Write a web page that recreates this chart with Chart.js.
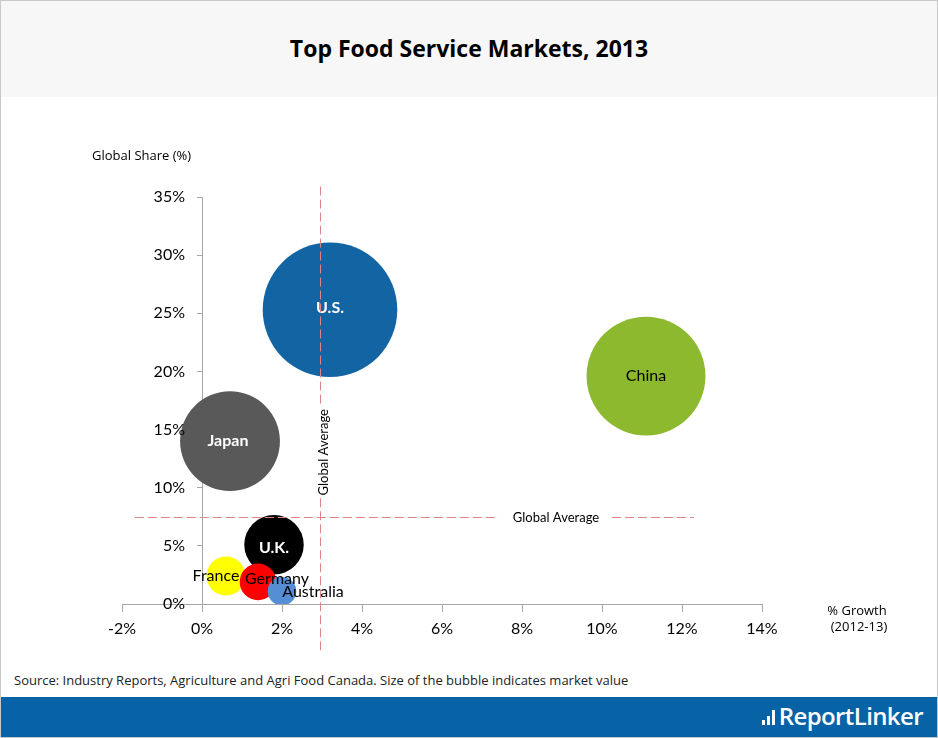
<!DOCTYPE html>
<html>
<head>
<meta charset="utf-8">
<script src="https://cdn.jsdelivr.net/npm/chart.js@4.4.1/dist/chart.umd.min.js"></script>
<style>
  html, body { margin: 0; padding: 0; background: #fff; }
  #page { position: relative; width: 938px; height: 738px; overflow: hidden; box-sizing: border-box; border: 1px solid #c8c8c8; }
  #title { position: absolute; left: 0; top: 0; width: 936px; height: 96px; background: #f7f7f7;
    font: bold 23px "Open Sans", sans-serif; color: #000; text-align: center; line-height: 94px; }
  #plot { position: absolute; left: -1px; top: 96px; width: 938px; height: 563px; }
  #source { position: absolute; left: 13px; top: 670px; font: 13px "Open Sans", sans-serif; color: #222; }
  #footer { position: absolute; left: 0; top: 696px; width: 936px; height: 40px; background: #0763a6; }
  #logo { position: absolute; right: 14px; top: 2px; color: #fff; font: 600 24px "Open Sans", sans-serif; letter-spacing: -0.6px; }
  #logo .bars { display: inline-block; vertical-align: 0px; margin-right: 2px; }
  #logo .bars i { display: inline-block; width: 3px; background: #fff; margin-right: 2px; }
</style>
</head>
<body>
<div id="page">
  <div id="title">Top Food Service Markets, 2013</div>
  <div id="plot"><canvas id="bubble_chart" width="938" height="563"></canvas></div>
  <div id="source">Source: Industry Reports, Agriculture and Agri Food Canada. Size of the bubble indicates market value</div>
  <div id="footer">
    <div id="logo"><span class="bars"><i style="height:5px"></i><i style="height:9px"></i><i style="height:15px"></i></span>ReportLinker</div>
  </div>
</div>
<script>
const countries = ['U.S.', 'China', 'Japan', 'U.K.', 'France', 'Germany', 'Australia'];
const growth = [3.2, 11.1, 0.7, 1.8, 0.6, 1.4, 2.0];        // % growth 2012-13
const share = [25.3, 19.6, 14.0, 5.1, 2.4, 1.9, 1.1];       // global share %
const marketValue = [100, 78, 55, 19.5, 8.4, 7.4, 4.5];     // relative market value (US = 100)
const avgGrowth = 2.95;
const avgShare = 7.5;

const colors = ['#1264a3', '#8cb92d', '#595959', '#000000', '#ffff00', '#ff0000', '#558ed5'];
const labelColors = ['#fff', '#000', '#fff', '#fff', '#000', '#000', '#000'];
const labelBold = [true, false, true, true, false, false, false];
const labelShift = [[0, -2], [0, 0], [-2, 0], [0, 3], [-10, 0], [19, -3], [31, 1]];

// Excel sizes bubbles by area
const maxRadius = 67.3;
const radius = (v) => maxRadius * Math.sqrt(v / Math.max(...marketValue));

const axisColor = '#a6a6a6';
const dashColor = '#e08585';
const tickFont = '16px Lato';

const overlay = {
  id: 'overlay',
  afterDatasetsDraw(chart) {
    const { ctx, scales: { x, y } } = chart;
    const meta = chart.getDatasetMeta(0);

    // y tick labels: chart.js puts them right on the axis when it sits at x = 0
    ctx.save();
    ctx.font = tickFont;
    ctx.fillStyle = '#000';
    ctx.textAlign = 'right';
    ctx.textBaseline = 'middle';
    const axisX = x.getPixelForValue(0);
    y.ticks.forEach((t) => ctx.fillText(t.label, axisX - 17, y.getPixelForValue(t.value)));
    ctx.restore();

    // bubble labels
    ctx.save();
    ctx.textAlign = 'center';
    ctx.textBaseline = 'middle';
    meta.data.forEach((pt, i) => {
      ctx.font = (labelBold[i] ? 'bold ' : '') + '16px Lato';
      ctx.fillStyle = labelColors[i];
      ctx.fillText(countries[i], pt.x + labelShift[i][0], pt.y + labelShift[i][1]);
    });
    ctx.restore();

    // global average lines
    ctx.save();
    ctx.strokeStyle = dashColor;
    ctx.lineWidth = 1;
    ctx.setLineDash([9, 4]);
    const gx = Math.round(x.getPixelForValue(avgGrowth)) + 0.5;
    const gy = Math.round(y.getPixelForValue(avgShare)) + 0.5;
    const seg = (x1, y1, x2, y2) => { ctx.beginPath(); ctx.moveTo(x1, y1); ctx.lineTo(x2, y2); ctx.stroke(); };
    // horizontal: from -1.68% to 12.3%, gap around label
    const hLabelX = x.getPixelForValue(8.85);
    seg(x.getPixelForValue(-1.68), gy, hLabelX - 57, gy);
    seg(hLabelX + 56, gy, x.getPixelForValue(12.3), gy);
    // vertical: from 35.9% down below the axis, gap around label
    const vLabelY = y.getPixelForValue(13.05);
    seg(gx, y.getPixelForValue(35.9), gx, vLabelY - 46);
    seg(gx, vLabelY + 46, gx, y.getPixelForValue(-4.0));
    ctx.setLineDash([]);

    ctx.fillStyle = '#000';
    ctx.font = '13px Lato';
    ctx.textAlign = 'center';
    ctx.textBaseline = 'middle';
    ctx.fillText('Global Average', hLabelX, gy);
    ctx.translate(gx + 3, vLabelY);
    ctx.rotate(-Math.PI / 2);
    ctx.fillText('Global Average', 0, 0);
    ctx.restore();

    // axis titles
    ctx.save();
    ctx.fillStyle = '#000';
    ctx.font = '13px "Open Sans"';
    ctx.textBaseline = 'middle';
    ctx.textAlign = 'left';
    ctx.fillText('Global Share (%)', 92, 59);
    ctx.textAlign = 'center';
    ctx.fillText('% Growth', 857, 514);
    ctx.fillText('(2012-13)', 859, 530);
    ctx.restore();
  }
};

new Chart(document.getElementById('bubble_chart').getContext('2d'), {
  type: 'bubble',
  data: {
    datasets: [{
      label: 'Markets',
      data: countries.map((c, i) => ({ x: growth[i], y: share[i], r: radius(marketValue[i]) })),
      backgroundColor: colors,
      borderWidth: 0,
      hoverBorderWidth: 0,
    }],
  },
  options: {
    responsive: false,
    animation: false,
    events: [],
    layout: { autoPadding: false, padding: { left: 122, right: 176, top: 100, bottom: 16 } },
    plugins: { legend: { display: false }, tooltip: { enabled: false } },
    scales: {
      x: {
        type: 'linear',
        min: -2,
        max: 14,
        ticks: { stepSize: 2, padding: 7.5, color: '#000', font: { family: 'Lato', size: 16 }, callback: (v) => v + '%' },
        grid: { drawOnChartArea: false, tickLength: 8, color: axisColor },
        border: { color: axisColor },
        afterFit: (s) => { s.height = 40; },
      },
      y: {
        type: 'linear',
        position: { x: 0 },
        min: 0,
        max: 35,
        ticks: { stepSize: 5, color: 'rgba(0,0,0,0)', font: { family: 'Lato', size: 16 }, callback: (v) => v + '%' },
        grid: { drawOnChartArea: false, tickLength: 5, color: axisColor },
        border: { color: axisColor },
      },
    },
  },
  plugins: [overlay],
});
</script>
</body>
</html>
